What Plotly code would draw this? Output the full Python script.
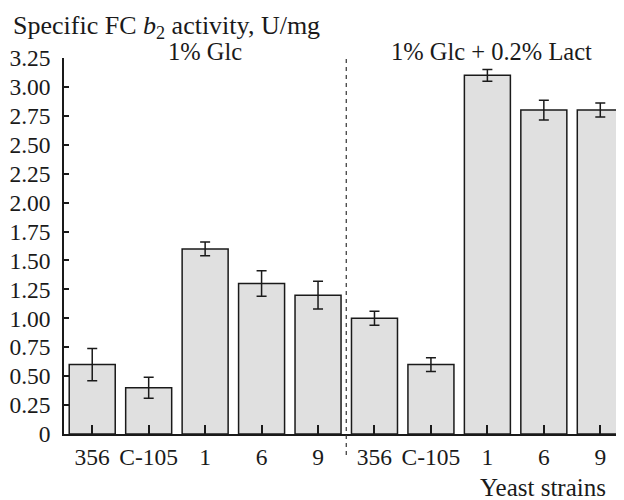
import plotly.graph_objects as go

# Data
strains = ["356", "C-105", "1", "6", "9", "356", "C-105", "1", "6", "9"]
activity = [0.60, 0.40, 1.60, 1.30, 1.20, 1.00, 0.60, 3.10, 2.80, 2.80]
errors = [0.14, 0.09, 0.06, 0.11, 0.12, 0.06, 0.06, 0.05, 0.085, 0.06]
y_tickvals = [0, 0.25, 0.5, 0.75, 1.0, 1.25, 1.5, 1.75, 2.0, 2.25, 2.5, 2.75, 3.0, 3.25]
y_ticktext = ["0", "0.25", "0.50", "0.75", "1.00", "1.25", "1.50", "1.75", "2.00",
              "2.25", "2.50", "2.75", "3.00", "3.25"]
group_labels = ["1% Glc", "1% Glc + 0.2% Lact"]
group_centers = [2, 7.08]
divider = 4.5

xpos = list(range(len(strains)))
FONT = "Liberation Serif, Times New Roman, serif"
TXT = "#1a1a1a"

# The page body has an 8 px margin, so the figure is laid out 8 px smaller
# and every position is given relative to the plot area.
W, H = 616, 492
L, T, B = 56, 50, 66
PW, PH = W - L, H - T - B


def px(sx):
    # screen x -> paper x
    return (sx - 8 - L) / PW


def py(sy):
    # screen y -> paper y
    return (H - B - (sy - 8)) / PH


fig = go.Figure()
fig.add_trace(go.Bar(
    x=xpos, y=activity, width=0.815,
    marker=dict(color="#e0e0e0", line=dict(color="#1a1a1a", width=1.5)),
    error_y=dict(type="data", array=errors, visible=True, color="#1a1a1a",
                 thickness=1.5, width=5),
    showlegend=False,
))

fig.update_layout(
    width=W, height=H,
    margin=dict(l=L, r=0, t=T, b=B),
    paper_bgcolor="white", plot_bgcolor="white",
    font=dict(family=FONT, size=23.5, color=TXT),
    xaxis=dict(range=[-0.5, 9.42], tickmode="array", tickvals=xpos, ticktext=strains,
               ticks="inside", ticklen=9, tickwidth=1.5, tickcolor="#1a1a1a",
               showline=True, linecolor="#1a1a1a", linewidth=1.5,
               showgrid=False, zeroline=False, ticklabelstandoff=1),
    yaxis=dict(range=[0, 3.25], tickmode="array", tickvals=y_tickvals, ticktext=y_ticktext,
               ticks="inside", ticklen=5, tickwidth=1.5, tickcolor="#1a1a1a",
               showline=True, linecolor="#1a1a1a", linewidth=1.5,
               showgrid=False, zeroline=False, ticklabelstandoff=7),
)

fig.add_shape(type="line", xref="x", yref="paper", x0=divider, x1=divider,
              y0=py(455), y1=py(55), line=dict(color="#333333", width=1.2, dash="4px,4px"))

annotations = [
    dict(text="Specific FC <i>b</i><sub>2</sub> activity, U/mg", xref="paper", yref="paper",
         x=px(11), y=py(8.5), xanchor="left", yanchor="top",
         showarrow=False, font=dict(size=26)),
    dict(text="Yeast strains", xref="paper", yref="paper",
         x=px(608), y=py(487), xanchor="right", yanchor="middle",
         showarrow=False, font=dict(size=25)),
]
for lbl, cx in zip(group_labels, group_centers):
    annotations.append(dict(text=lbl, xref="x", yref="paper", x=cx, y=py(51),
                            xanchor="center", yanchor="middle", showarrow=False,
                            font=dict(size=24.5)))
fig.update_layout(annotations=annotations)

fig.write_html("out.html")
